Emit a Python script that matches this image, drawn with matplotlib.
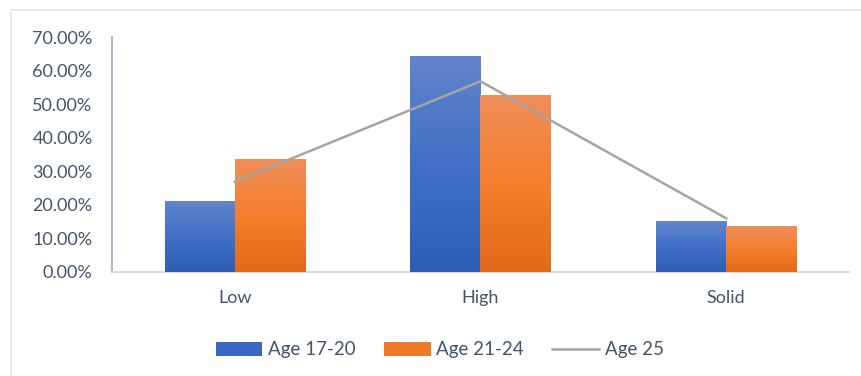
import numpy as np
import matplotlib.pyplot as plt
from matplotlib.colors import LinearSegmentedColormap

# Datos
categories = ['Low', 'High', 'Solid']
age_17_20 = [0.211, 0.641, 0.149]
age_21_24 = [0.336, 0.527, 0.137]
age_25 = [0.269, 0.568, 0.160]
y_ticks = [0.0, 0.1, 0.2, 0.3, 0.4, 0.5, 0.6, 0.7]

text_color = '#44546A'
plt.rcParams['font.family'] = ['Lato', 'DejaVu Sans']

fig = plt.figure(figsize=(8.62, 3.76), dpi=100)
ax = fig.add_axes([112 / 862, 1 - 272 / 376, 737 / 862, 235 / 376])

# marco exterior del gráfico
fig.add_artist(plt.Line2D([11 / 862, 11 / 862], [0, 1 - 10 / 376], color='#E1E5EB', lw=1.2))
fig.add_artist(plt.Line2D([11 / 862, 1], [1 - 10 / 376, 1 - 10 / 376], color='#E1E5EB', lw=1.2))

x = np.arange(len(categories))
w = 0.285
b1 = ax.bar(x - w / 2, age_17_20, w, color='#3A67BF', label='Age 17-20', zorder=2)
b2 = ax.bar(x + w / 2, age_21_24, w, color='#EE7A2C', label='Age 21-24', zorder=2)

# degradados en las barras
cmap_blue = LinearSegmentedColormap.from_list('b', ['#2E5DB6', '#4170C6', '#6284CB'])
cmap_orange = LinearSegmentedColormap.from_list('o', ['#E2691A', '#F47F2C', '#EF8E5A'])
grad = np.linspace(0, 1, 256).reshape(-1, 1)
for bars, cmap in [(b1, cmap_blue), (b2, cmap_orange)]:
    for p in bars:
        x0, y0 = p.get_x(), p.get_y()
        ax.imshow(grad, cmap=cmap, origin='lower', aspect='auto', zorder=3,
                  extent=[x0, x0 + p.get_width(), y0, y0 + p.get_height()])

ln, = ax.plot(x, age_25, color='#A5A5A5', lw=1.8, label='Age 25', zorder=4)

ax.set_xlim(-0.5, len(categories) - 0.5)
ax.set_ylim(0, 0.7)
ax.set_yticks(y_ticks)
ax.set_yticklabels([f'{v * 100:.2f}%' for v in y_ticks])
ax.set_xticks(x)
ax.set_xticklabels(categories)
ax.tick_params(axis='both', length=0, labelsize=13, colors=text_color)
ax.tick_params(axis='y', pad=14)
ax.tick_params(axis='x', pad=13)

for s in ['top', 'right']:
    ax.spines[s].set_visible(False)
ax.spines['left'].set_color('#ADB9CA')
ax.spines['left'].set_linewidth(1.5)
ax.spines['bottom'].set_color('#D9DEE4')
ax.spines['bottom'].set_linewidth(1.5)

leg = fig.legend([b1, b2, ln], ['Age 17-20', 'Age 21-24', 'Age 25'],
                 loc='center', bbox_to_anchor=(0.51, 1 - 350 / 376), ncol=3, frameon=False,
                 fontsize=13.5, handlelength=2.5, handleheight=0.75, handletextpad=0.3,
                 columnspacing=1.5, labelcolor=text_color)

fig.savefig('out.png', dpi=100)
